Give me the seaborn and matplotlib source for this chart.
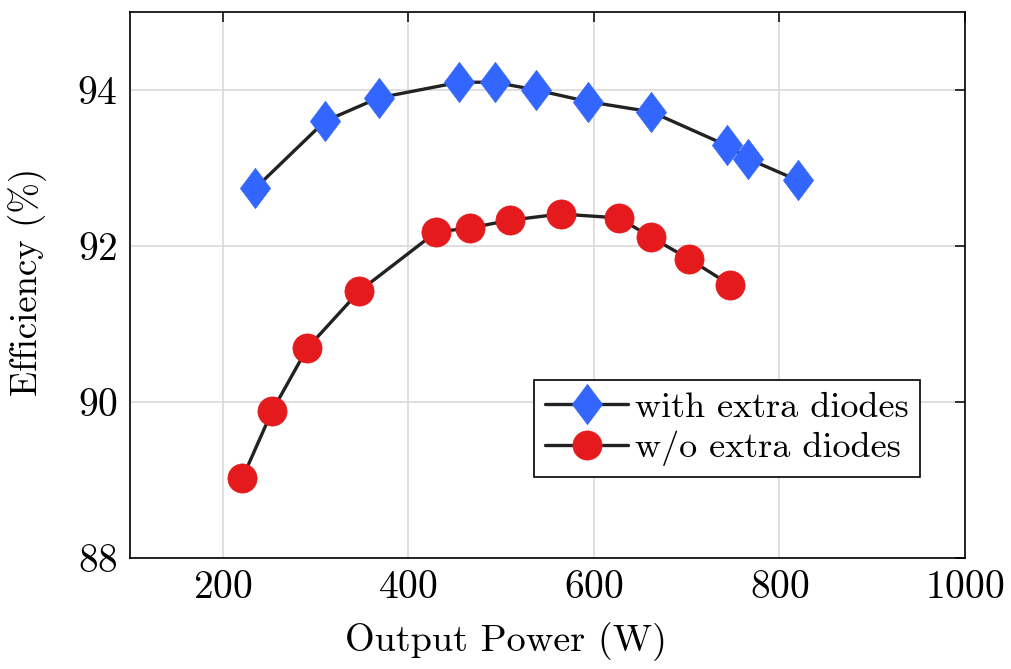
import numpy as np
import pandas as pd
import matplotlib
matplotlib.use("Agg")
import matplotlib.pyplot as plt
from matplotlib.path import Path
import seaborn as sns

# Measured efficiency versus output power
power_with = [235, 310, 368, 455, 493, 538, 594, 662, 743, 766, 820]
eff_with = [92.74, 93.60, 93.90, 94.10, 94.10, 94.00, 93.85, 93.72, 93.29, 93.12, 92.84]

power_without = [221, 253, 291, 347, 430, 466, 509, 564, 627, 662, 703, 747]
eff_without = [89.02, 89.88, 90.69, 91.42, 92.18, 92.23, 92.33, 92.41, 92.36, 92.11, 91.83, 91.50]

series_labels = ["with extra diodes", "w/o extra diodes"]
x_ticks = [200, 400, 600, 800, 1000]
y_ticks = [88, 90, 92, 94]

sns.set_theme(style="whitegrid")
plt.rcParams.update({
    "font.family": ["cmr10", "DejaVu Serif"],
    "axes.formatter.use_mathtext": True,
    "mathtext.fontset": "cm",
    "axes.edgecolor": "black",
    "axes.labelcolor": "black",
    "text.color": "black",
    "axes.linewidth": 1.2,
    "grid.color": "#dcdcdc",
    "grid.linewidth": 1.3,
    "xtick.direction": "in",
    "ytick.direction": "in",
    "xtick.major.size": 7,
    "ytick.major.size": 7,
    "xtick.major.width": 1.1,
    "ytick.major.width": 1.1,
    "xtick.color": "black",
    "ytick.color": "black",
    "xtick.labelcolor": "black",
    "ytick.labelcolor": "black",
})

# Tall diamond marker (narrower than it is high)
diamond = Path([(0, 1), (0.75, 0), (0, -1), (-0.75, 0), (0, 1)],
               [Path.MOVETO, Path.LINETO, Path.LINETO, Path.LINETO, Path.CLOSEPOLY])

fig = plt.figure(figsize=(10.12, 6.69), dpi=100)
ax = fig.add_axes([0.1285, 0.166, 0.8251, 0.816])

line_col = "#222222"
blue = "#3366ff"
red = "#e41a1c"

df_with = pd.DataFrame({"power": power_with, "eff": eff_with})
df_without = pd.DataFrame({"power": power_without, "eff": eff_without})

sns.lineplot(data=df_with, x="power", y="eff", ax=ax, color=line_col, linewidth=2.4,
             marker=diamond, markersize=29, markerfacecolor=blue, markeredgecolor=blue,
             markeredgewidth=0.5, label=series_labels[0])
sns.lineplot(data=df_without, x="power", y="eff", ax=ax, color=line_col, linewidth=2.4,
             marker="o", markersize=21, markerfacecolor=red, markeredgecolor=red,
             markeredgewidth=0.5, label=series_labels[1])

ax.set_xlim(100, 1000)
ax.set_ylim(88, 95)
ax.set_xticks(x_ticks)
ax.set_yticks(y_ticks)
ax.tick_params(axis="both", labelsize=28.5, top=True, right=True, pad=9)
ax.set_xlabel("Output Power (W)", fontsize=27.5)
ax.set_ylabel("Efficiency (%)", fontsize=26.5)
ax.xaxis.set_label_coords(0.45, -0.118)
ax.yaxis.set_label_coords(-0.10, 0.505)
for s in ax.spines.values():
    s.set_color("black")
    s.set_linewidth(1.2)

leg = ax.legend(loc="lower right", bbox_to_anchor=(0.946, 0.148), borderaxespad=0,
                fontsize=26, frameon=True, fancybox=False, framealpha=1,
                edgecolor="black", handlelength=2.3, handletextpad=0.2,
                borderpad=0.3, labelspacing=0.2, markerscale=1.0)
leg.get_frame().set_linewidth(1.2)
for t in leg.get_texts():
    t.set_color("black")

fig.savefig("out.png", dpi=100)
